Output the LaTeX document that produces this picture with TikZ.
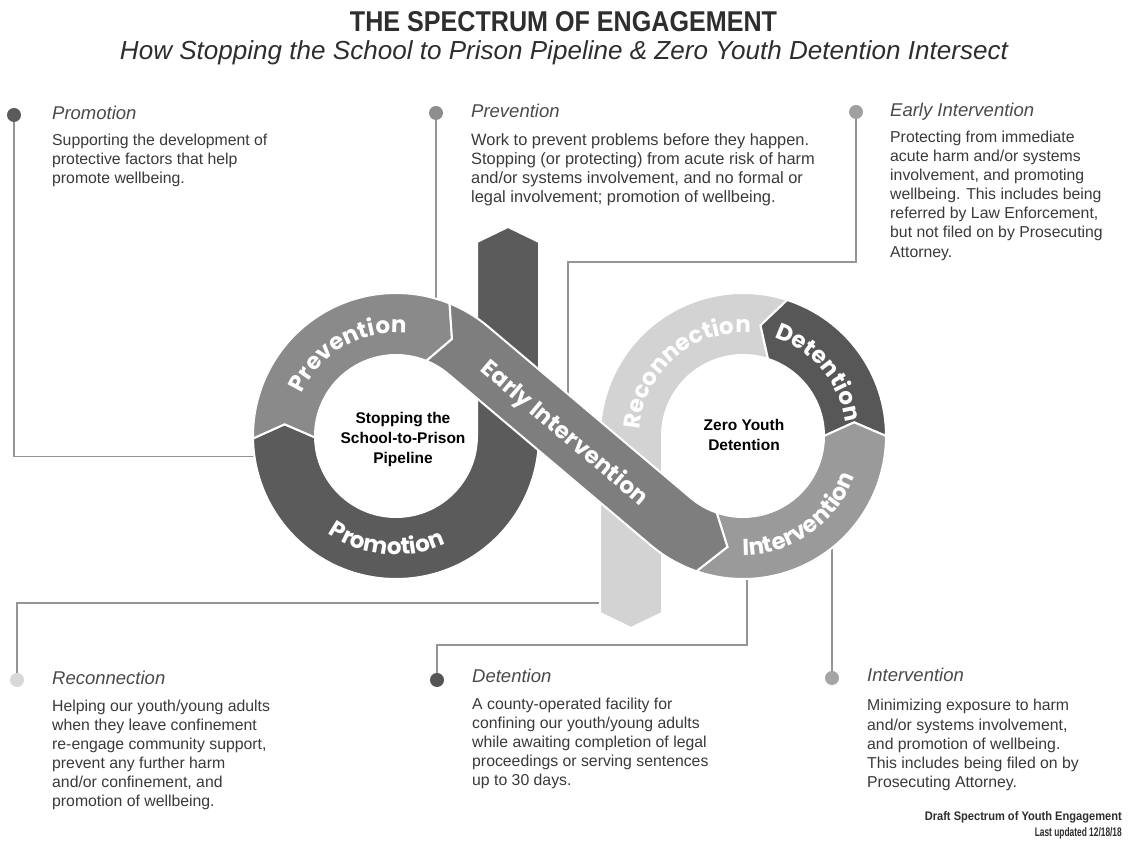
\documentclass[tikz,border=0pt]{standalone}
\usepackage{fontspec}
\usepackage{graphicx}
\setmainfont{Liberation Sans}
\newfontfamily\ringfam{Poppins}
\usetikzlibrary{decorations.text}
\definecolor{cPromo}{HTML}{5B5B5B}
\definecolor{cPrev}{HTML}{8A8A8A}
\definecolor{cEI}{HTML}{7E7E7E}
\definecolor{cInt}{HTML}{9A9A9A}
\definecolor{cDet}{HTML}{575757}
\definecolor{cRecon}{HTML}{D3D3D3}
\definecolor{dotPromo}{HTML}{5B5B5B}
\definecolor{dotPrev}{HTML}{8E8E8E}
\definecolor{dotEI}{HTML}{A0A0A0}
\definecolor{dotRecon}{HTML}{D8D8D8}
\definecolor{dotDet}{HTML}{555555}
\definecolor{dotInt}{HTML}{A5A5A5}
\definecolor{cLine}{HTML}{959595}
\definecolor{cBody}{HTML}{3A3A3A}
\definecolor{cHead}{HTML}{4A4A4A}
\definecolor{cTitle}{HTML}{2E2E2E}
\newcommand{\txtstack}[1]{\vtop{\baselineskip=19.1pt\lineskiplimit=-20pt\halign{##\hfil\cr#1\crcr}}}
\newcommand{\ctrstack}[1]{\vtop{\baselineskip=20pt\lineskiplimit=-20pt\halign{\hfil##\hfil\cr#1\crcr}}}
\newcommand{\ringfont}{\ringfam\fontsize{23}{23}\selectfont\bfseries}
\tikzset{
  dotnode/.style={circle, minimum size=14pt, inner sep=0pt},
  conn/.style={draw=cLine, line width=1.8pt},
  seg/.style={draw=white, line width=2pt},
  head/.style={anchor=base west, inner sep=0pt, font=\fontsize{18.5}{20}\selectfont\itshape, text=cHead},
  body/.style={anchor=base west, inner sep=0pt, font=\fontsize{15.8}{19}\selectfont, text=cBody},
  ctr/.style={anchor=base, inner sep=0pt, font=\fontsize{15.5}{20}\selectfont\bfseries, text=black},
  ringlbl/.style={decorate, decoration={text along path, text align=center, text color=white}},
}
\begin{document}
\begin{tikzpicture}[x=1pt, y=1pt]
\useasboundingbox (0,0) rectangle (1128,843);
\fill[white] (0,0) rectangle (1128,843);

\coordinate (L) at (396,407);
\coordinate (R) at (743,407);

% titles
\node[anchor=base, inner sep=0pt, text=cTitle] (title) at (563.5,811) {\resizebox{427pt}{20pt}{\bfseries THE SPECTRUM OF ENGAGEMENT}};
\node[anchor=base, inner sep=0pt, text=cTitle] (subtitle) at (564,783) {\resizebox{888pt}{!}{\itshape How Stopping the School to Prison Pipeline \& Zero Youth Detention Intersect}};

% dots
\node[dotnode, fill=dotPromo] (dPromo) at (14,728) {};
\node[dotnode, fill=dotPrev] (dPrev) at (436,730) {};
\node[dotnode, fill=dotEI] (dEI) at (856,731) {};
\node[dotnode, fill=dotRecon] (dRecon) at (17,163) {};
\node[dotnode, fill=dotDet] (dDet) at (437,163) {};
\node[dotnode, fill=dotInt] (dInt) at (832,165) {};

% connector ends
\coordinate (ePromo) at ([shift={(188.4:140)}]L);
\coordinate (ePrev) at (436,540);
\coordinate (cEIc) at (568,581);
\coordinate (eEI) at (568,445);
\coordinate (eRecon) at (605,240);
\coordinate (cDetc) at (747,198);
\coordinate (eDet) at (747,270);
\coordinate (eInt) at (832,300);

\draw[conn] (dPromo) |- (ePromo);
\draw[conn] (dPrev) -- (ePrev);
\draw[conn] (dEI) |- (cEIc) -- (eEI);
\draw[conn] (dRecon) |- (eRecon);
\draw[conn] (dDet) |- (cDetc) -- (eDet);
\draw[conn] (dInt) -- (eInt);

% Reconnection (with light bar down)
\path[seg, fill=cRecon] ([shift={(72:143)}]R) arc[start angle=72, end angle=180, radius=143]
  -- (600,230) -- (631,215) -- (662,230) -- (662,407)
  arc[start angle=180, end angle=72, radius=81]
  -- ([shift={(81:112)}]R) -- cycle;
% Promotion (with dark bar up)
\path[seg, fill=cPromo] (477,601) -- (508,616) -- (539,601) -- (539,407)
  arc[start angle=0, end angle=-179, radius=143]
  -- ([shift={(174:112)}]L) -- ([shift={(181:81)}]L)
  arc[start angle=181, end angle=360, radius=81] -- cycle;
% Prevention
\path[seg, fill=cPrev] ([shift={(181:143)}]L) arc[start angle=181, end angle=68, radius=143]
  -- ([shift={(60:112)}]L) -- ([shift={(68:81)}]L)
  arc[start angle=68, end angle=181, radius=81]
  -- ([shift={(174:112)}]L) -- cycle;
% Detention
\path[seg, fill=cDet] ([shift={(0:143)}]R) arc[start angle=0, end angle=72, radius=143]
  -- ([shift={(81:112)}]R) -- ([shift={(72:81)}]R)
  arc[start angle=72, end angle=0, radius=81]
  -- ([shift={(7:112)}]R) -- cycle;
% Intervention
\path[seg, fill=cInt] ([shift={(251:143)}]R) arc[start angle=251, end angle=360, radius=143]
  -- ([shift={(7:112)}]R) -- ([shift={(0:81)}]R)
  arc[start angle=360, end angle=251, radius=81]
  -- ([shift={(262:112)}]R) -- cycle;
% Early Intervention band
\path[seg, fill=cEI] ([shift={(68:143)}]L) arc[start angle=68, end angle=49.8, radius=143]
  -- ([shift={(229.8:81)}]R) arc[start angle=229.8, end angle=251, radius=81]
  -- ([shift={(262:112)}]R) -- ([shift={(251:143)}]R)
  arc[start angle=251, end angle=229.8, radius=143]
  -- ([shift={(49.8:81)}]L) arc[start angle=49.8, end angle=68, radius=81]
  -- ([shift={(60:112)}]L) -- cycle;

% ring labels
\path[ringlbl, decoration={text={|\ringfont|Prevention}}] ([shift={(180:103)}]L) arc[start angle=180, end angle=60, radius=103];
\path[ringlbl, decoration={text={|\ringfont|Promotion}}] ([shift={(205:119)}]L) arc[start angle=205, end angle=325, radius=119];
\path[ringlbl, decoration={text={|\ringfont|Reconnection}}] ([shift={(196:103)}]R) arc[start angle=196, end angle=66, radius=103];
\path[ringlbl, decoration={text={|\ringfont|Detention}}] ([shift={(100:103)}]R) arc[start angle=100, end angle=-20, radius=103];
\path[ringlbl, decoration={text={|\ringfont|Intervention}}] ([shift={(240:119)}]R) arc[start angle=240, end angle=370, radius=119];
\node[rotate=-40.2, inner sep=0pt, text=white, font=\ringfont] (tEI) at (564,409) {Early Intervention};

% centre texts
\node[ctr] (cLeft) at (403,419.5) {\ctrstack{Stopping the\cr School-to-Prison\cr Pipeline}};
\node[ctr] (cRight) at (744,412.5) {\ctrstack{Zero Youth\cr Detention}};

% text blocks
\node[head] (hPromo) at (52,723) {Promotion};
\node[body] (bPromo) at (52,697.5) {\txtstack{Supporting the development of\cr protective factors that help\cr promote wellbeing.}};

\node[head] (hPrev) at (471,725) {Prevention};
\node[body, font=\fontsize{16.4}{19}\selectfont] (bPrev) at (471,697.5) {\txtstack{Work to prevent problems before they happen.\cr Stopping (or protecting) from acute risk of harm\cr and/or systems involvement, and no formal or\cr legal involvement; promotion of wellbeing.}};

\node[head] (hEI) at (890,726) {Early Intervention};
\node[body] (bEI) at (890,700.5) {\txtstack{Protecting from immediate\cr acute harm and/or systems\cr involvement, and promoting\cr wellbeing. This includes being\cr referred by Law Enforcement,\cr but not filed on by Prosecuting\cr Attorney.}};

\node[head] (hRecon) at (52,158) {Reconnection};
\node[body] (bRecon) at (52,131.5) {\txtstack{Helping our youth/young adults\cr when they leave confinement\cr re-engage community support,\cr prevent any further harm\cr and/or confinement, and\cr promotion of wellbeing.}};

\node[head] (hDet) at (472,160) {Detention};
\node[body] (bDet) at (472,133.5) {\txtstack{A county-operated facility for\cr confining our youth/young adults\cr while awaiting completion of legal\cr proceedings or serving sentences\cr up to 30 days.}};

\node[head] (hInt) at (867,161) {Intervention};
\node[body] (bInt) at (867,132) {\txtstack{Minimizing exposure to harm\cr and/or systems involvement,\cr and promotion of wellbeing.\cr This includes being filed on by\cr Prosecuting Attorney.}};

% footer
\node[anchor=base east, inner sep=0pt, text=cTitle] (foot1) at (1122,22) {\resizebox{197pt}{9pt}{\bfseries Draft Spectrum of Youth Engagement}};
\node[anchor=base east, inner sep=0pt, text=cTitle] (foot2) at (1122,6) {\resizebox{87pt}{9pt}{\bfseries Last updated 12/18/18}};
\end{tikzpicture}
\end{document}
